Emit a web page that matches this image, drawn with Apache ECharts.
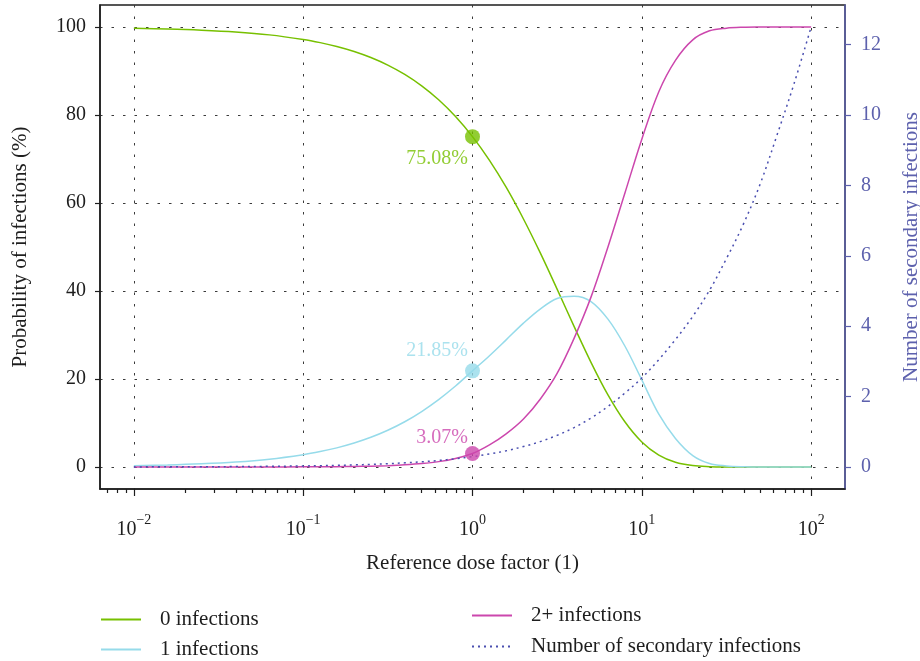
<!DOCTYPE html>
<html>
<head>
<meta charset="utf-8">
<script src="https://cdn.jsdelivr.net/npm/echarts@6/dist/echarts.min.js"></script>
<style>
  html, body { margin: 0; padding: 0; background: #ffffff; }
  #chart { width: 920px; height: 661px; }
</style>
</head>
<body>
<div id="chart"></div>
<script>
// Reference dose factor (log scale) and the curves sampled at those doses
const doseFactor = [0.01, 0.0158, 0.0251, 0.0398, 0.0631, 0.1, 0.126, 0.158, 0.2, 0.251, 0.316, 0.398, 0.501, 0.631, 0.794,
  1, 1.26, 1.58, 2, 2.51, 3.16, 3.98, 5.01, 6.31, 7.94, 10, 12.6, 15.8, 20, 25.1, 31.6, 39.8, 50.1, 63.1, 79.4, 100];

// Probability of 0 infections (%)
const zeroInfections = [99.71, 99.55, 99.28, 98.87, 98.21, 97.17, 96.45, 95.57, 94.43, 93.06, 91.34, 89.22, 86.62, 83.46, 79.65,
  75.08, 69.69, 63.58, 56.37, 48.71, 40.43, 31.96, 23.79, 16.39, 10.28, 5.69, 2.70, 1.08, 0.32, 0.08, 0.01, 0, 0, 0, 0, 0];

// Probability of exactly 1 infection (%)
const oneInfection = [0.29, 0.45, 0.72, 1.13, 1.78, 2.80, 3.50, 4.35, 5.45, 6.75, 8.35, 10.29, 12.61, 15.32, 18.40,
  21.85, 25.3, 28.9, 32.7, 35.9, 38.3, 38.8, 37.6, 33.6, 27.5, 19.8, 12.0, 6.5, 2.6, 0.8, 0.25, 0.06, 0.01, 0, 0, 0];

// Probability of 2 or more infections (%)
const twoPlusInfections = [0, 0, 0.002, 0.005, 0.012, 0.031, 0.049, 0.077, 0.12, 0.19, 0.31, 0.49, 0.77, 1.22, 1.95,
  3.07, 5.01, 7.52, 10.9, 15.4, 21.27, 29.24, 38.61, 50.01, 62.22, 74.51, 85.30, 92.42, 97.08, 99.13, 99.74, 99.94, 99.99, 100, 100, 100];

// Expected number of secondary infections (right axis)
const secondaryInfections = [0.003, 0.005, 0.0075, 0.012, 0.019, 0.03, 0.038, 0.047, 0.06, 0.075, 0.094, 0.118, 0.148, 0.186, 0.234,
  0.294, 0.37, 0.46, 0.58, 0.72, 0.90, 1.12, 1.39, 1.72, 2.10, 2.53, 3.05, 3.62, 4.28, 5.02, 5.92, 6.90, 8.05, 9.45, 10.90, 12.5];

// Highlighted values at the reference dose
const highlightDose = 1;
const highlightValues = [75.08, 21.85, 3.07];

// Axis ticks
const probabilityTicks = [0, 20, 40, 60, 80, 100];
const secondaryTicks = [0, 2, 4, 6, 8, 10, 12];
const decadeTicks = [0.01, 0.1, 1, 10, 100];
const minorDoseTicks = [0.007, 0.008, 0.009,
  0.02, 0.03, 0.04, 0.05, 0.06, 0.07, 0.08, 0.09,
  0.2, 0.3, 0.4, 0.5, 0.6, 0.7, 0.8, 0.9,
  2, 3, 4, 5, 6, 7, 8, 9,
  20, 30, 40, 50, 60, 70, 80, 90];

const FONT = 'Liberation Serif';
const BLACK = '#1e1e1e';
const AXIS_BLUE = '#5d61ad';
const COLORS = { zero: '#77c000', one: '#96dbea', two: '#cc47ad', secondary: '#4a4fb0' };

const pairs = ys => doseFactor.map((x, i) => [x, ys[i]]);

function decadeLabel(v) {
  const e = Math.round(Math.log10(v));
  return '{b|10}{s|' + (e < 0 ? '\u2212' : '') + Math.abs(e) + '}';
}

const gridLine = { show: true, lineStyle: { color: '#3a3a3a', width: 1, type: [2.5, 9] } };

const lineSeries = (name, ys, color, extra) => Object.assign({
  name, type: 'line', data: pairs(ys), symbol: 'none', smooth: 0.35,
  color, lineStyle: { color, width: 1.5 }, z: 3
}, extra || {});

const pointSeries = (name, value, color, offset) => ({
  name, type: 'scatter', data: [[highlightDose, value]], symbolSize: 15, color,
  itemStyle: { color }, z: 5,
  label: {
    show: true, position: 'left', distance: 6, offset,
    formatter: p => p.value[1].toFixed(2) + '%',
    color, fontFamily: FONT, fontSize: 20
  }
});

const legendBase = {
  orient: 'vertical', itemWidth: 40, itemHeight: 12, padding: 0,
  itemStyle: { opacity: 0 },
  textStyle: { fontFamily: FONT, fontSize: 21, color: BLACK, padding: [0, 0, 0, 14] }
};

const chart = echarts.init(document.getElementById('chart'), null, { renderer: 'canvas' });
chart.setOption({
  animation: false,
  backgroundColor: '#ffffff',
  grid: {
    left: 100, right: 75, top: 5, bottom: 172, outerBoundsMode: 'none', containLabel: false,
    show: true, borderColor: BLACK, borderWidth: 1.5, backgroundColor: 'transparent'
  },
  legend: [
    Object.assign({ data: ['0 infections'], left: 100, top: 609 }, legendBase),
    Object.assign({ data: ['1 infections'], left: 100, top: 639 }, legendBase),
    Object.assign({ data: ['2+ infections'], left: 471, top: 605 }, legendBase),
    Object.assign({ data: ['Number of secondary infections'], left: 471, top: 636 }, legendBase)
  ],
  xAxis: [{
    type: 'log', logBase: 10, min: 0.00631, max: 158.5, position: 'bottom',
    name: 'Reference dose factor (1)', nameLocation: 'middle', nameGap: 64,
    nameTextStyle: { fontFamily: FONT, fontSize: 21, color: BLACK },
    axisLine: { show: true, onZero: false, lineStyle: { color: BLACK, width: 1.5 } },
    axisTick: { show: true, customValues: decadeTicks, length: 7, lineStyle: { color: BLACK, width: 1.2 } },
    axisLabel: {
      customValues: decadeTicks, margin: 24, formatter: decadeLabel,
      rich: {
        b: { fontFamily: FONT, fontSize: 20, color: BLACK },
        s: { fontFamily: FONT, fontSize: 14, color: BLACK, padding: [0, 0, 20, 0] }
      }
    },
    splitLine: gridLine,
    minorTick: { show: false }, minorSplitLine: { show: false }
  }, {
    type: 'log', logBase: 10, min: 0.00631, max: 158.5, position: 'bottom',
    axisLine: { show: false, onZero: false },
    axisTick: { show: true, customValues: minorDoseTicks, length: 4, lineStyle: { color: BLACK, width: 1.2 } },
    axisLabel: { show: false },
    splitLine: { show: false }
  }],
  yAxis: [{
    type: 'value', min: -5, max: 105, position: 'left',
    name: 'Probability of infections (%)', nameLocation: 'middle', nameGap: 69,
    nameTextStyle: { fontFamily: FONT, fontSize: 21, color: BLACK },
    axisLine: { show: true, onZero: false, lineStyle: { color: BLACK, width: 1.5 } },
    axisTick: { show: true, customValues: probabilityTicks, length: 5, lineStyle: { color: BLACK, width: 1.2 } },
    axisLabel: { customValues: probabilityTicks, margin: 14, fontFamily: FONT, fontSize: 20, color: BLACK },
    splitLine: gridLine
  }, {
    type: 'value', min: -0.625, max: 13.125, position: 'right',
    name: 'Number of secondary infections', nameLocation: 'middle', nameGap: 56,
    nameTextStyle: { fontFamily: FONT, fontSize: 21, color: AXIS_BLUE },
    axisLine: { show: true, onZero: false, lineStyle: { color: AXIS_BLUE, width: 1.5 } },
    axisTick: { show: true, customValues: secondaryTicks, length: 6, lineStyle: { color: AXIS_BLUE, width: 1.2 } },
    axisLabel: { customValues: secondaryTicks, margin: 16, fontFamily: FONT, fontSize: 20, color: AXIS_BLUE },
    splitLine: { show: false }
  }],
  series: [
    lineSeries('0 infections', zeroInfections, COLORS.zero),
    lineSeries('1 infections', oneInfection, COLORS.one),
    lineSeries('2+ infections', twoPlusInfections, COLORS.two),
    lineSeries('Number of secondary infections', secondaryInfections, COLORS.secondary,
      { yAxisIndex: 1, lineStyle: { color: COLORS.secondary, width: 1.5, type: [2, 4] } }),
    pointSeries('p0', highlightValues[0], COLORS.zero, [9, 22]),
    pointSeries('p1', highlightValues[1], COLORS.one, [9, -20]),
    pointSeries('p2', highlightValues[2], COLORS.two, [9, -16])
  ]
});
</script>
</body>
</html>
